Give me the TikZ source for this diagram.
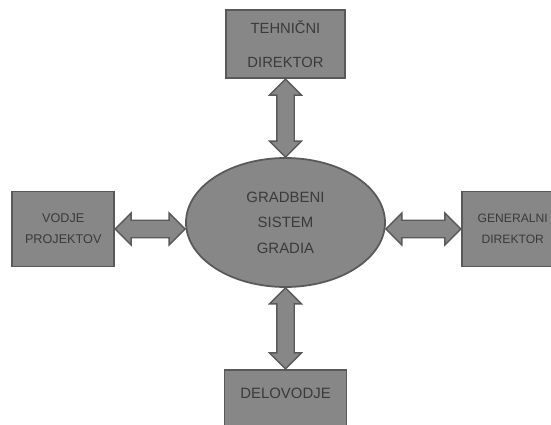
\documentclass[tikz,border=0pt]{standalone}
\usepackage{fontspec}
\setmainfont{Liberation Sans}
\usepackage{tikz}
\usetikzlibrary{calc, positioning, shapes.geometric, shapes.arrows}
\definecolor{fillGrey}{HTML}{878787}
\definecolor{rimGrey}{HTML}{595959}
\definecolor{textGrey}{HTML}{3A3A3A}
\tikzset{
  box/.style  = {draw=rimGrey, fill=fillGrey, line width=1pt, text=textGrey,
                 align=center, inner sep=0pt},
  hub/.style  = {box, ellipse, minimum width=3.98cm, minimum height=2.58cm},
  link/.style = {double arrow, draw=rimGrey, fill=fillGrey, line width=0.8pt,
                 inner xsep=0pt, inner ysep=0.16cm,
                 double arrow head extend=0.145cm, double arrow tip angle=90}
}

\begin{document}
\begin{tikzpicture}
  \useasboundingbox (0,0) rectangle (11.02,8.48);

  \node[hub, font=\fontsize{8.5}{14.5}\selectfont] (hub) at (5.71,4.03)
    {GRADBENI\\SISTEM\\GRADIA};
  \node[box, above=1.56cm of hub, minimum width=2.38cm, minimum height=1.36cm,
        font=\fontsize{8.4}{19}\selectfont] (tech) {TEHNIČNI\\DIREKTOR};
  \node[box, left=1.4cm of hub, yshift=-0.13cm, minimum width=2.04cm, minimum height=1.5cm,
        font=\fontsize{7.2}{12}\selectfont] (proj) {VODJE\\PROJEKTOV};
  \node[box, right=1.5cm of hub, yshift=-0.13cm, minimum width=2.04cm, minimum height=1.5cm,
        font=\fontsize{6.9}{12}\selectfont] (gen) {GENERALNI\\DIREKTOR};
  \node[box, below=1.62cm of hub, minimum width=2.44cm, minimum height=1.36cm,
        text depth=0.4cm, font=\fontsize{8.5}{12}\selectfont] (del) {DELOVODJE};

  % ends of the side arrows on the ellipse
  \coordinate (hw) at (proj.east -| hub.west);
  \coordinate (he) at (gen.west -| hub.east);

  \foreach \a/\b in {tech.south/hub.north, hub.south/del.north, proj.east/hw, he/gen.west}
    \path let \p1 = ($(\b)-(\a)$) in
      node[link, minimum height={veclen(\x1,\y1)}, rotate={atan2(\y1,\x1)}]
        at ($(\a)!0.5!(\b)$) {};
\end{tikzpicture}
\end{document}
